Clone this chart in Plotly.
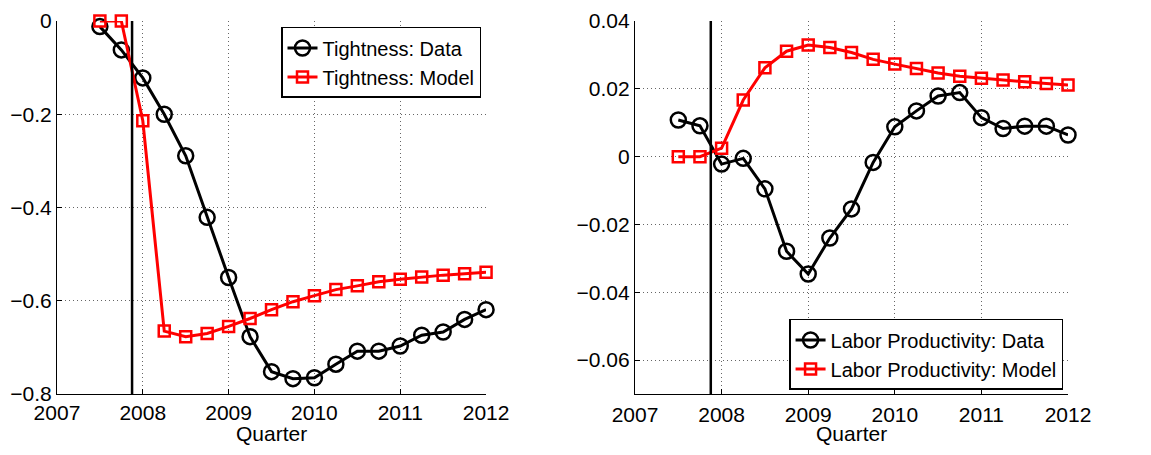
import plotly.graph_objects as go

quarters = [2007.5, 2007.75, 2008.0, 2008.25, 2008.5, 2008.75, 2009.0, 2009.25, 2009.5, 2009.75,
            2010.0, 2010.25, 2010.5, 2010.75, 2011.0, 2011.25, 2011.5, 2011.75, 2012.0]

tight_data = [-0.012, -0.062, -0.122, -0.200, -0.289, -0.421, -0.550, -0.677, -0.752, -0.767,
              -0.765, -0.736, -0.708, -0.708, -0.697, -0.674, -0.667, -0.640, -0.619]
tight_model = [0.0, 0.0, -0.214, -0.665, -0.677, -0.670, -0.655, -0.638, -0.619, -0.602,
               -0.589, -0.576, -0.568, -0.559, -0.554, -0.549, -0.545, -0.542, -0.539]

prod_data = [0.0108, 0.0091, -0.0022, -0.0005, -0.0095, -0.0279, -0.0346, -0.0240, -0.0154, -0.0017,
             0.0088, 0.0135, 0.0179, 0.0189, 0.0115, 0.0083, 0.0090, 0.0090, 0.0064]
prod_model = [0.0, 0.0, 0.0025, 0.0167, 0.0262, 0.0311, 0.0329, 0.0322, 0.0307, 0.0287,
              0.0273, 0.0260, 0.0247, 0.0237, 0.0231, 0.0226, 0.0221, 0.0216, 0.0211]

recession_start = 2007.875
x_ticks = [2007, 2008, 2009, 2010, 2011, 2012]
x_title = "Quarter"

FONT = "Liberation Sans, Arial, Helvetica, sans-serif"
FS = 21

fig = go.Figure()

def add_pair(xa, ya, data, model, name_d, name_m, legend):
    fig.add_trace(go.Scatter(
        x=quarters, y=data, mode="lines+markers", name=name_d, xaxis=xa, yaxis=ya, legend=legend,
        cliponaxis=False,
        line=dict(color="black", width=3),
        marker=dict(symbol="circle-open", size=15, color="black", line=dict(width=2.5, color="black")),
    ))
    fig.add_trace(go.Scatter(
        x=quarters, y=model, mode="lines+markers", name=name_m, xaxis=xa, yaxis=ya, legend=legend,
        cliponaxis=False,
        line=dict(color="#ff0000", width=3),
        marker=dict(symbol="square-open", size=11, color="#ff0000", line=dict(width=2.5, color="#ff0000")),
    ))

add_pair("x", "y", tight_data, tight_model, "Tightness: Data", "Tightness: Model", "legend")
add_pair("x2", "y2", prod_data, prod_model, "Labor Productivity: Data", "Labor Productivity: Model", "legend2")

axis_common = dict(
    showline=True, linecolor="black", linewidth=1.2, mirror=False,
    ticks="inside", ticklen=5, tickcolor="black", automargin=False,
    showgrid=True, gridcolor="#666666", griddash="1px,3px", gridwidth=1,
    zeroline=False, tickfont=dict(size=FS, color="black", family=FONT),
)

fig.update_layout(
    width=1151, height=455,
    paper_bgcolor="white", plot_bgcolor="white",
    margin=dict(l=0, r=0, t=0, b=0, autoexpand=False),
    font=dict(family=FONT, color="black"),
    showlegend=True,
    xaxis=dict(domain=[0.0495, 0.4223], range=[2007, 2012], tickvals=x_ticks, ticklabelstandoff=0,
               **axis_common),
    yaxis=dict(domain=[0.134, 0.9538], range=[-0.8, 0], dtick=0.2, tick0=0, **axis_common),
    xaxis2=dict(domain=[0.5517, 0.9279], range=[2007, 2012], tickvals=x_ticks, anchor="y2", ticklabelstandoff=2,
                **axis_common),
    yaxis2=dict(domain=[0.134, 0.9538], range=[-0.07, 0.04], dtick=0.02, tick0=0, anchor="x2", **axis_common),
    legend=dict(x=0.4179, y=0.9407, xanchor="right", yanchor="top",
                bgcolor="white", bordercolor="black", borderwidth=1.5,
                font=dict(size=20, color="black"), tracegroupgap=0, itemwidth=30),
    legend2=dict(x=0.9236, y=0.1429, xanchor="right", yanchor="bottom",
                 bgcolor="white", bordercolor="black", borderwidth=1.5,
                 font=dict(size=20, color="black"), tracegroupgap=0, itemwidth=30),
)

for xr, yr in [("x", "y domain"), ("x2", "y2 domain")]:
    fig.add_shape(type="line", xref=xr, yref=yr, x0=recession_start, x1=recession_start, y0=0, y1=1,
                  line=dict(color="black", width=2.5))

for xr in ["x domain", "x2 domain"]:
    fig.add_annotation(text=x_title, xref=xr, yref="paper", x=0.5, y=1 - 433 / 455,
                       xanchor="center", yanchor="middle", showarrow=False,
                       font=dict(size=FS, color="black", family=FONT))

fig.write_html("out.html", config={"displayModeBar": False},
               post_script="document.body.style.margin='0';document.body.style.overflow='hidden';")
